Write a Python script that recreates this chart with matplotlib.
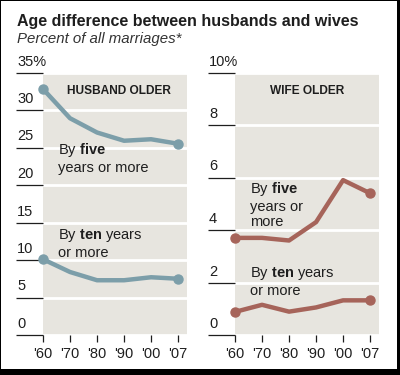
import matplotlib
matplotlib.use('Agg')
import matplotlib.pyplot as plt
from matplotlib.patches import Rectangle

plt.rcParams['font.family'] = ['Liberation Sans', 'DejaVu Sans']
plt.rcParams['mathtext.fontset'] = 'custom'
plt.rcParams['mathtext.rm'] = 'Liberation Sans'
plt.rcParams['mathtext.bf'] = 'Liberation Sans:bold'

years = ["'60", "'70", "'80", "'90", "'00", "'07"]

husband_five = [32.8, 28.9, 27.0, 25.9, 26.1, 25.5]
husband_ten = [10.1, 8.4, 7.3, 7.3, 7.7, 7.5]
wife_five = [3.7, 3.7, 3.6, 4.3, 5.9, 5.4]
wife_ten = [0.88, 1.15, 0.89, 1.05, 1.32, 1.32]

husband_ticks = [0, 5, 10, 15, 20, 25, 30, 35]
wife_ticks = [0, 2, 4, 6, 8, 10]

BLUE = '#7c9ea9'
RED = '#a6645a'
GRAY = '#e7e5df'
INK = '#1e1e1e'

W, H = 400, 375
fig = plt.figure(figsize=(W / 100, H / 100), dpi=100)
fig.patch.set_facecolor('black')
fig.add_artist(Rectangle((1 / W, 6 / H), 396 / W, 368 / H, transform=fig.transFigure,
                         facecolor='white', edgecolor='none', zorder=-10))

fig.text(17 / W, 1 - 26 / H, 'Age difference between husbands and wives',
         fontsize=11.5, fontweight='bold', color=INK, va='baseline')
fig.text(17 / W, 1 - 43 / H, 'Percent of all marriages*',
         fontsize=10.8, fontstyle='italic', color='#333333', va='baseline')


def panel(left_px, ticks, top_label, series, color, title, title_x, notes):
    ax = fig.add_axes([left_px / W, 1 - 335 / H, 144 / W, 262.5 / H])
    ax.set_facecolor(GRAY)
    for s in ax.spines.values():
        s.set_visible(False)
    ax.set_ylim(0, ticks[-1])
    ax.set_xlim(0, 5.33)
    x = list(range(len(years)))
    ax.set_xticks(x)
    ax.set_xticklabels(years, fontsize=10.5, color=INK)
    ax.set_yticks(ticks)
    ax.tick_params(axis='y', direction='out', length=19.5, width=0.9,
                   color=INK, labelleft=False)
    ax.tick_params(axis='x', direction='out', length=5, width=0.9,
                   color=INK, pad=4)
    ax.grid(axis='y', color='white', linewidth=2)
    ax.set_axisbelow(True)
    for t in ticks:
        lab = top_label if t == ticks[-1] else str(t)
        ax.annotate(lab, xy=(0, t), xycoords=('axes fraction', 'data'),
                    xytext=(-26, 4), textcoords='offset pixels',
                    fontsize=10.5, color=INK, ha='left', va='bottom')
    for vals in series:
        ax.plot(x, vals, color=color, linewidth=3.2, solid_joinstyle='round',
                solid_capstyle='round', marker='o', markersize=6.5,
                markevery=[0, len(vals) - 1], clip_on=False, zorder=3)
    ax.text(title_x, 0.93, title, transform=ax.transAxes, ha='center', va='center',
            fontsize=8.6, fontweight='bold', color=INK)
    for xt, yt, txt in notes:
        ax.annotate(txt, xy=(0, 0), xycoords='axes fraction',
                    xytext=(xt, yt), textcoords='offset pixels',
                    fontsize=10.5, color=INK, ha='left', va='top',
                    linespacing=1.15)
    return ax


panel(43, husband_ticks, '35%', [husband_five, husband_ten], BLUE, 'HUSBAND OLDER', 0.53,
      [(15, 335 - 141, 'By $\\mathbf{five}$\nyears or more'),
       (15, 335 - 227, 'By $\\mathbf{ten}$ years\nor more')])
panel(235, wife_ticks, '10%', [wife_five, wife_ten], RED, 'WIFE OLDER', 0.5,
      [(15, 335 - 180, 'By $\\mathbf{five}$\nyears or\nmore'),
       (15, 335 - 265, 'By $\\mathbf{ten}$ years\nor more')])

fig.savefig('out.png', dpi=100, facecolor=fig.get_facecolor())
